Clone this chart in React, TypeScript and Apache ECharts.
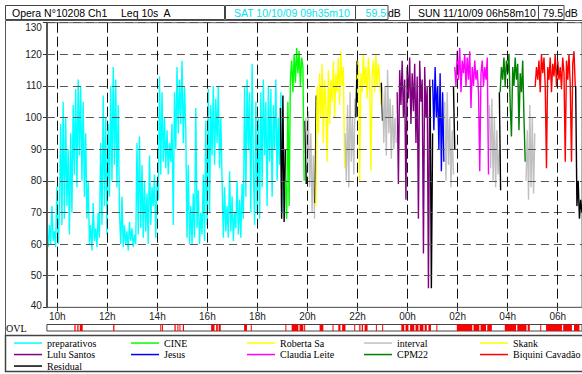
import React, { useEffect, useRef } from "react";
import * as echarts from "echarts";

// ---- time scale (minutes since Saturday 00:00) ----
const STEP_MIN = 3; // one reading every 3 minutes
const START_MIN = 9 * 60 + 35 + 10 / 60; // SAT 09h35m10
const END_MIN = 30 * 60 + 58 + 10 / 60; // SUN 06h58m10

const tickHours = [10, 12, 14, 16, 18, 20, 22, 24, 26, 28, 30];
const tickLabels = ["10h", "12h", "14h", "16h", "18h", "20h", "22h", "00h", "02h", "04h", "06h"];
const Y_MIN = 40;
const Y_MAX = 130;
const Y_STEP = 10;

// ---- Leq readings (dB) ----
const preparativos = [
  62, 59, 66, 60, 72, 61, 64, 59,
  78, 60, 70,
  98, 66, 105, 68,
  100, 72, 90, 63, 95, 70,
  104, 82, 109, 78, 112, 88, 110, 80, 105,
  75, 95, 68, 80,
  60, 66, 58, 73, 61, 65, 59, 70, 62,
  92, 66, 107, 72, 100,
  63, 98, 75,
  110, 80, 116, 85, 112, 78, 104,
  70, 60, 75,
  59, 66, 60, 64, 58, 67, 61, 65, 59, 63, 60,
  92, 63, 94, 65, 85,
  62, 80, 64, 76, 60, 88, 66, 78,
  72, 82, 62, 80, 74,
  113, 82, 108, 86,
  100, 84, 96, 82, 92, 86, 98,
  66, 108, 90, 116, 95, 112, 98, 118, 92, 110, 96,
  62, 85, 60, 72,
  60, 76, 62, 103, 65, 77, 60, 70, 63, 82, 61, 99, 66,
  109, 70, 104, 88, 110, 85, 106, 92, 110, 84, 100, 80,
  62, 78, 64,
  72, 62, 83, 64, 75, 61, 70, 65, 80, 63, 74, 62, 79, 68,
  110, 75, 112, 90, 108, 70, 117, 85,
  66, 105, 70, 100, 68,
  108, 78, 112, 88, 105, 72, 110, 86, 109, 75, 104, 90, 112, 80, 100, 85, 108, 70,
];
const cine = [80, 68, 105, 72, 112, 118, 108, 120, 111, 122, 114, 121, 110, 119, 116, 80];
const robertaSa = [72, 110, 95, 114, 100, 117, 92, 112, 104, 86, 115, 98, 112, 105, 118, 100, 114, 108, 119, 104, 121, 110, 116, 84];
const skank = [112, 118, 80, 114, 108, 120, 110, 116, 106, 119, 112, 83, 114, 118, 108, 120, 110, 117, 112, 104];
const luluSantos = [108, 79, 115, 104, 118, 100, 112, 74, 116, 106, 119, 98, 114, 102, 117, 92, 113, 68, 118, 105, 112, 57, 116, 100, 110, 46, 112];
const jesus = [112, 96, 116, 100, 110, 90, 114, 83, 108, 86];
const claudiaLeite = [116, 110, 121, 112, 122, 108, 118, 114, 120, 110, 119, 112, 121, 103, 116, 110, 118, 112, 115, 108, 83, 114, 118, 110, 116, 112, 119, 82];
const cpm22 = [108, 116, 112, 119, 110, 118, 114, 120, 104, 94, 116, 110, 119, 112, 117, 96, 114, 108, 118, 100, 86];
const biquiniCavadao = [110, 116, 112, 118, 108, 120, 114, 119, 110, 84, 116, 112, 119, 108, 117, 113, 120, 110, 118, 112, 116, 109, 119, 114, 86, 118, 112, 120, 110, 86, 117, 121, 110];

const interval1 = [100, 85, 102, 78, 95, 70, 88, 68];
const interval2 = [95, 80, 104, 78, 108, 86, 100, 82, 106];
const interval3 = [108, 92, 110, 88, 115, 95, 106, 87, 104, 90, 100, 92];
const interval4 = [105, 80, 108, 85, 100, 78, 96, 82];
const interval5 = [104, 84, 106, 80, 100, 78, 96, 82, 90];
const interval6 = [80, 96, 74, 104, 78, 100, 76, 95];

const residual1 = [103, 68, 107, 67, 90];
const residual2 = [99, 79];
const residual3 = [73, 107];
const residual4 = [100, 118];
const residual5 = [111, 99];
const residual6 = [110, 46, 95];
const residual7 = [110, 90];
const residual8 = [108, 77];
const residual9 = [110, 72, 80, 68, 74, 70];

// [series name, start minute, readings]
const segments: [string, number, number[]][] = [
  ["preparativos", START_MIN, preparativos],
  ["Residual", 1135, residual1],
  ["CINE", 1147, cine],
  ["Residual", 1194, residual2],
  ["interval", 1196, interval1],
  ["Residual", 1218, residual3],
  ["Roberta Sa", 1220, robertaSa],
  ["interval", 1290, interval2],
  ["Residual", 1316, residual4],
  ["Skank", 1319, skank],
  ["Residual", 1377, residual5],
  ["interval", 1380, interval3],
  ["Lulu Santos", 1415, luluSantos],
  ["Residual", 1494, residual6],
  ["Jesus", 1500, jesus],
  ["interval", 1529, interval4],
  ["Residual", 1550, residual7],
  ["Claudia Leite", 1553, claudiaLeite],
  ["interval", 1636, interval5],
  ["Residual", 1660, residual8],
  ["CPM22", 1662, cpm22],
  ["interval", 1724, interval6],
  ["Biquini Cavadão", 1746, biquiniCavadao],
  ["Residual", 1843, residual9],
];

const colors: Record<string, string> = {
  preparativos: "#00FFFF",
  CINE: "#00FF00",
  "Roberta Sa": "#FFFF00",
  interval: "#C0C0C0",
  Skank: "#FFFF00",
  "Lulu Santos": "#800080",
  Jesus: "#0000FF",
  "Claudia Leite": "#FF00FF",
  CPM22: "#008000",
  "Biquini Cavadão": "#FF0000",
  Residual: "#000000",
};

const legendColumns = [
  ["preparativos", "Lulu Santos", "Residual"],
  ["CINE", "Jesus"],
  ["Roberta Sa", "Claudia Leite"],
  ["interval", "CPM22"],
  ["Skank", "Biquini Cavadão"],
];
const legendLefts = [14, 131, 247, 364, 480];

// overload bursts [start minute, end minute]
const ovlBursts: [number, number][] = [
  [641, 644], [648, 651], [654, 661], [734, 737], [847, 849], [851, 853],
  [881, 884], [888, 890], [893, 895], [901, 904], [969, 977], [981, 985], [987, 992],
  [1048, 1055], [1064, 1066], [1147, 1149], [1162, 1178], [1181, 1190], [1192, 1194],
  [1229, 1238], [1260, 1262], [1274, 1279], [1283, 1291], [1312, 1314],
  [1324, 1327], [1330, 1333], [1337, 1344], [1364, 1366], [1379, 1381],
  [1425, 1432], [1435, 1442], [1446, 1456], [1459, 1466], [1469, 1478], [1481, 1486], [1490, 1496],
  [1509, 1511], [1558, 1595], [1598, 1612], [1615, 1628], [1631, 1642],
  [1673, 1700], [1703, 1725], [1728, 1733], [1758, 1760], [1772, 1810], [1813, 1834], [1839, 1852],
];

const SANS = "'Liberation Sans', Arial, sans-serif";
const SERIF = "'Liberation Serif', 'Times New Roman', serif";

export default function App() {
  const ref = useRef<HTMLDivElement>(null);
  useEffect(() => {
    document.body.style.margin = "0";
    const chart = echarts.init(ref.current!, undefined, { renderer: "svg" });
    const tickMins = tickHours.map((h) => h * 60);

    const lineSeries = segments.map(([name, start, vals]) => ({
      type: "line",
      name,
      xAxisIndex: 0,
      yAxisIndex: 0,
      showSymbol: false,
      symbol: "none",
      silent: true,
      z: 2,
      data: vals.map((v, i) => [start + i * STEP_MIN, v]),
      lineStyle: { width: 1.4, color: colors[name] },
      itemStyle: { color: colors[name] },
    }));

    const header = [
      { x: 5.5, w: 219 },
      { x: 225.5, w: 130 },
      { x: 355.5, w: 32.5 },
      { x: 409.5, w: 129 },
      { x: 538.5, w: 25.5 },
    ];
    const txt = (text: string, x: number, fill: string, align = "left") => ({
      type: "text",
      x,
      y: 13,
      style: { text, fill, fontSize: 10.5, fontFamily: SANS, align, verticalAlign: "middle" },
    });

    chart.setOption({
      animation: false,
      backgroundColor: "#ffffff",
      grid: [
        { left: 46.9, right: -2.7, top: 22.7, bottom: 66.7, show: true, borderColor: "#666", borderWidth: 1 },
        { left: 46.9, right: -2.7, top: 324.5, height: 6.5, show: true, borderColor: "#444", borderWidth: 1 },
      ],
      xAxis: [
        {
          type: "value",
          gridIndex: 0,
          min: START_MIN,
          max: END_MIN,
          z: 5,
          axisLine: { show: true, lineStyle: { color: "#666", width: 1 } },
          axisTick: { show: true, customValues: tickMins, length: 4, lineStyle: { color: "#333" } },
          axisLabel: {
            customValues: tickMins,
            formatter: (v: number) => tickLabels[tickHours.indexOf(Math.round(v / 60))] ?? "",
            fontSize: 10,
            color: "#222",
            margin: 4,
            fontFamily: SANS,
          },
          splitLine: { show: true, lineStyle: { type: [10, 4], color: "#111", width: 1 } },
        },
        { type: "value", gridIndex: 1, min: START_MIN, max: END_MIN, show: false },
      ],
      yAxis: [
        {
          type: "value",
          gridIndex: 0,
          min: Y_MIN,
          max: Y_MAX,
          interval: Y_STEP,
          z: 5,
          axisLine: { show: true, lineStyle: { color: "#555", width: 2 } },
          axisTick: { show: true, length: 4, lineStyle: { color: "#333" } },
          axisLabel: {
            fontSize: 10,
            color: "#222",
            margin: 5,
            fontFamily: SANS,
            formatter: (v: number) => (v === Y_MAX ? "{top|" + v + "}" : v === Y_MIN ? "{bot|" + v + "}" : String(v)),
            rich: {
              top: { fontSize: 10, fontFamily: SANS, color: "#222", padding: [9, 0, 0, 0] },
              bot: { fontSize: 10, fontFamily: SANS, color: "#222", padding: [0, 0, 3, 0] },
            },
          },
          splitLine: { show: true, lineStyle: { type: [8, 5], color: "#555", width: 1 } },
        },
        { type: "value", gridIndex: 1, min: 0, max: 1, show: false },
      ],
      legend: legendColumns.map((names, ci) => ({
        data: names,
        orient: "vertical",
        left: legendLefts[ci],
        top: 337.3,
        itemWidth: 28,
        itemHeight: 1.5,
        itemGap: 0,
        icon: "rect",
        padding: 0,
        selectedMode: false,
        textStyle: { fontFamily: SERIF, fontSize: 10, color: "#000", lineHeight: 11.5 },
      })),
      graphic: [
        ...header.map((b) => ({
          type: "rect",
          shape: { x: b.x, y: 5.5, width: b.w, height: 14 },
          style: { fill: "none", stroke: "#444", lineWidth: 1 },
        })),
        txt("Opera N°10208 Ch1", 12, "#000"),
        txt("Leq 10s  A", 121, "#000"),
        txt("SAT 10/10/09 09h35m10", 234, "#00E5EE"),
        txt("59.5", 386, "#00E5EE", "right"),
        txt("dB", 388, "#000"),
        txt("SUN 11/10/09 06h58m10", 418, "#000"),
        txt("79.5", 563, "#000", "right"),
        txt("dB", 565, "#000"),
        {
          type: "rect",
          shape: { x: 5.5, y: 20.5, width: 600, height: 315 },
          style: { fill: "none", stroke: "#555", lineWidth: 1 },
        },
        {
          type: "rect",
          shape: { x: 5.5, y: 335.5, width: 600, height: 36 },
          style: { fill: "none", stroke: "#444", lineWidth: 1.5 },
        },
        {
          type: "text",
          x: 6,
          y: 328,
          style: { text: "OVL", fill: "#000", fontSize: 10, fontFamily: SERIF, verticalAlign: "middle" },
        },
      ],
      series: [
        ...lineSeries,
        {
          type: "custom",
          name: "OVL",
          xAxisIndex: 1,
          yAxisIndex: 1,
          silent: true,
          encode: { x: [0, 1] },
          data: ovlBursts,
          renderItem: (_params: any, api: any) => {
            const s = api.coord([api.value(0), 0]);
            const e = api.coord([api.value(1), 1]);
            return {
              type: "rect",
              shape: { x: s[0], y: e[1], width: Math.max(1, e[0] - s[0]), height: s[1] - e[1] },
              style: { fill: "#FF0000" },
            };
          },
        },
      ],
    });
    return () => chart.dispose();
  }, []);
  return <div ref={ref} style={{ width: 582, height: 374 }} />;
}
